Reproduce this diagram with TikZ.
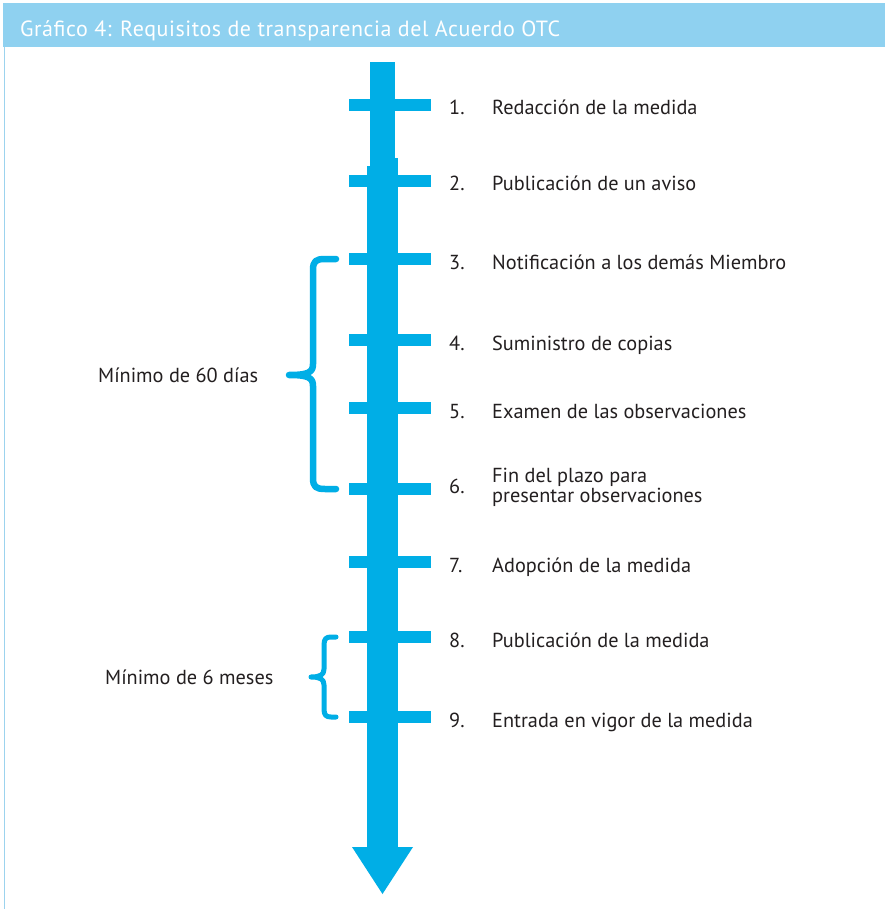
\documentclass[tikz,border=0pt]{standalone}
\usepackage{fontspec}
\setmainfont{PT Sans}
\newfontfamily\titlefont[LetterSpace=2.5]{PT Sans}
\definecolor{arrowblue}{HTML}{00AEE6}
\definecolor{headblue}{HTML}{8FD1F0}
\definecolor{edgeblue}{HTML}{9CD3EE}
\definecolor{txt}{HTML}{231F20}
\begin{document}
\begin{tikzpicture}[x=1pt,y=-1pt,
  tick/.style={fill=arrowblue},
  num/.style={anchor=base west,text=txt,font=\fontsize{20.3}{21}\selectfont,inner sep=0pt},
  lab/.style={anchor=base west,text=txt,font=\fontsize{20.3}{20.5}\selectfont,inner sep=0pt,align=left},
  bracepath/.style={draw=arrowblue,line cap=round,line join=round}]
\useasboundingbox (0,0) rectangle (885,909);
\fill[white] (0,0) rectangle (885,909);
% header
\fill[headblue] (3,3.5) rectangle (885,47.5);
\draw[edgeblue,line width=1.8] (4.5,47.5) -- (4.5,909);
\node[anchor=base west,text=white,inner sep=0pt,font=\titlefont\fontsize{22}{24}\selectfont] (title) at (20,36.5) {Gráfico 4: Requisitos de transparencia del Acuerdo OTC};
% arrow
\fill[arrowblue] (370,62) rectangle (395,166);
\fill[arrowblue] (395,158) rectangle (398,166);
\fill[arrowblue] (367,166) rectangle (398,848);
\fill[arrowblue] (352,847) -- (413,847) -- (382.5,894) -- cycle;
% ticks and labels
\foreach \y/\n/\t in {105/1/Redacción de la medida,
  181/2/Publicación de un aviso,
  259/3/Notificación a los demás Miembro,
  340/4/Suministro de copias,
  408/5/Examen de las observaciones,
  562/7/Adopción de la medida,
  637/8/Publicación de la medida,
  717/9/Entrada en vigor de la medida}{
  \fill[tick] (349,\y-6) rectangle (431,\y+6);
  \node[num] (n\n) at (449,\y+10) {\n.};
  \node[lab] (l\n) at (492,\y+10) {\t};
}
\fill[tick] (349,489-6) rectangle (431,489+6);
\node[num] (n6) at (449,493) {6.};
\node[lab] (l6a) at (492,482) {Fin del plazo para};
\node[lab] (l6b) at (492,502) {presentar observaciones};
% big brace
\draw[bracepath,line width=6.5] (336,259) -- (325,259) .. controls (316,259) and (313,261) .. (313,270) -- (313,364)
  .. controls (313,372) and (309,375) .. (289,375)
  .. controls (309,375) and (313,378) .. (313,386) -- (313,478)
  .. controls (313,487) and (316,489) .. (325,489) -- (336,489);
% small brace
\draw[bracepath,line width=5] (336,637) -- (331,637) .. controls (326,637) and (324,639) .. (324,645) -- (324,669)
  .. controls (324,675) and (320,677) .. (311,677)
  .. controls (320,677) and (324,679) .. (324,685) -- (324,709)
  .. controls (324,715) and (326,717) .. (331,717) -- (336,717);
\node[lab] (m60) at (98,382) {Mínimo de 60 días};
\node[lab] (m6) at (105,684) {Mínimo de 6 meses};
\end{tikzpicture}
\end{document}
